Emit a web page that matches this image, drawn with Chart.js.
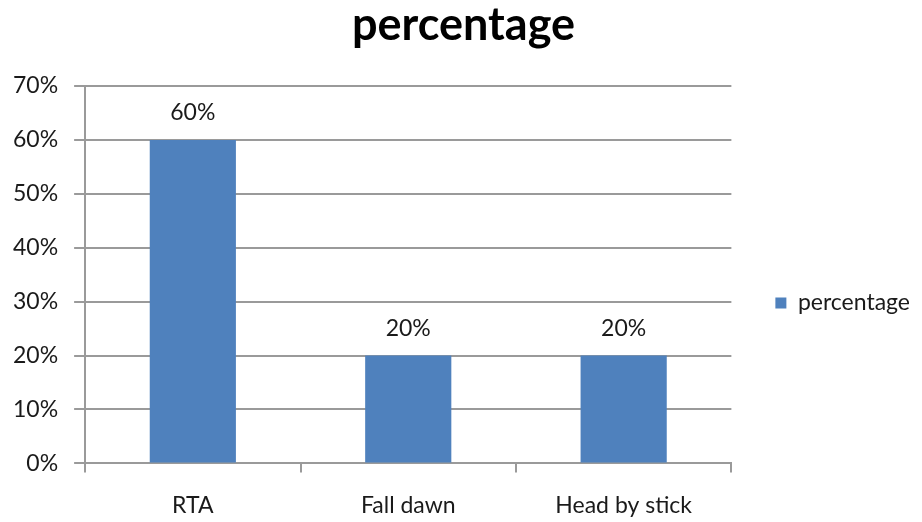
<!DOCTYPE html>
<html>
<head>
<meta charset="utf-8">
<script src="https://cdn.jsdelivr.net/npm/chart.js@4/dist/chart.umd.min.js"></script>
<style>
  html, body { margin: 0; padding: 0; background: #fff; }
  #wrap { width: 922px; height: 522px; }
</style>
</head>
<body>
<div id="wrap"><canvas id="bar"></canvas></div>
<script>
var categories = ['RTA', 'Fall dawn', 'Head by stick'];
var percentValues = [60, 20, 20];
var seriesName = 'percentage';

var fontFamily = 'Lato, "Open Sans", sans-serif';

// draw the value labels above each bar
var valueLabels = {
    id: 'valueLabels',
    afterDatasetsDraw: function(chart) {
        var ctx = chart.ctx;
        var meta = chart.getDatasetMeta(0);
        ctx.save();
        ctx.font = '23px ' + fontFamily;
        ctx.fillStyle = '#1a1a1a';
        ctx.textAlign = 'center';
        ctx.textBaseline = 'middle';
        meta.data.forEach(function(bar, i) {
            ctx.fillText(percentValues[i] + '%', bar.x, bar.y - 27);
        });
        ctx.restore();
    }
};

// nudge legend and title to where excel put them
var boxShift = {
    id: 'boxShift',
    afterLayout: function(chart) {
        var l = chart.legend;
        l.left += 34; l.right += 34;
        l.top += 34; l.bottom += 34;
        var t = chart.titleBlock;
        t.left += 22; t.right += 22;
    }
};

var ctx = document.getElementById('bar').getContext('2d');
var myChart = new Chart(ctx, {
    type: 'bar',
    data: {
        labels: categories,
        datasets: [{
            label: seriesName,
            data: percentValues,
            backgroundColor: '#4F81BD',
            borderWidth: 0,
            barPercentage: 0.4,
            categoryPercentage: 1
        }]
    },
    options: {
        responsive: true,
        maintainAspectRatio: false,
        animation: false,
        layout: { padding: { left: -3, right: 36, top: 0, bottom: -16 } },
        plugins: {
            title: {
                display: true,
                text: 'percentage',
                color: '#000',
                font: { family: fontFamily, size: 45, weight: 'bold', lineHeight: 1 },
                padding: { top: 3, bottom: 38 }
            },
            legend: {
                position: 'right',
                labels: {
                    boxWidth: 11,
                    boxHeight: 11,
                    padding: 10,
                    color: '#1a1a1a',
                    font: { family: fontFamily, size: 23 }
                }
            },
            tooltip: { enabled: false }
        },
        scales: {
            x: {
                offset: true,
                grid: {
                    offset: true,
                    drawOnChartArea: false,
                    drawTicks: true,
                    tickLength: 9,
                    color: '#9a9a9a',
                    lineWidth: 2
                },
                border: { color: '#9a9a9a', width: 2 },
                ticks: {
                    padding: 19,
                    color: '#1a1a1a',
                    font: { family: fontFamily, size: 23 }
                }
            },
            y: {
                min: 0,
                max: 70,
                ticks: {
                    stepSize: 10,
                    padding: 16,
                    color: '#1a1a1a',
                    font: { family: fontFamily, size: 23 },
                    callback: function(v) { return v + '%'; }
                },
                grid: {
                    color: '#9a9a9a',
                    lineWidth: 2,
                    tickLength: 11
                },
                border: { color: '#9a9a9a', width: 2 }
            }
        }
    },
    plugins: [valueLabels, boxShift]
});
</script>
</body>
</html>
